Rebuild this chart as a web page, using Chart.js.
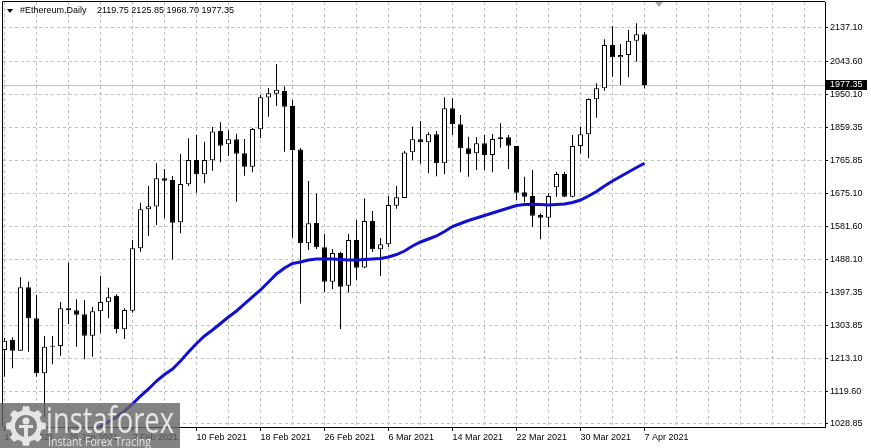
<!DOCTYPE html>
<html lang="en">
<head>
    <meta charset="UTF-8">
    <title>#Ethereum, Daily</title>
    <script src="https://cdn.jsdelivr.net/npm/chart.js"></script>
    <style>
        html, body { margin: 0; padding: 0; background: #fff; }
        canvas { display: block; }
    </style>
</head>
<body>
    <canvas id="ethChart" width="871" height="448"></canvas>

    <script>
        // Daily candles, 17 Jan 2021 .. 7 Apr 2021 (one bar per day)
        const opens = [
            1235.9, 1263.9, 1234.0, 1411.4, 1324.7, 1170.8, 1245.2, 1247.1, 1352.7, 1347.0,
            1335.9, 1276.0, 1344.3, 1369.4, 1387.9, 1293.9, 1345.9, 1520.6, 1629.8, 1637.6,
            1716.5, 1711.7, 1593.3, 1699.7, 1767.7, 1727.7, 1766.8, 1848.9, 1811.7, 1825.7,
            1786.5, 1749.0, 1853.6, 1942.6, 1953.2, 1960.8, 1918.8, 1797.1, 1534.6, 1591.4,
            1523.4, 1427.1, 1507.5, 1415.9, 1543.8, 1466.8, 1597.0, 1517.8, 1531.8, 1639.5,
            1661.3, 1789.2, 1825.7, 1817.2, 1839.9, 1758.5, 1912.4, 1867.6, 1800.5, 1786.5,
            1814.4, 1781.7, 1826.5, 1831.2, 1806.9, 1677.3, 1667.0, 1613.8, 1606.2, 1691.3,
            1728.5, 1665.0, 1806.9, 1839.6, 1937.6, 1968.4, 2089.6, 2055.1, 2061.6, 2101.6,
            2119.75
        ];
        const highs = [
            1269.5, 1271.5, 1439.4, 1427.1, 1389.9, 1275.2, 1275.2, 1370.3, 1480.3, 1377.9,
            1375.9, 1357.2, 1443.1, 1410.3, 1391.8, 1352.7, 1543.8, 1648.2, 1695.0, 1758.5,
            1742.5, 1722.9, 1784.5, 1828.4, 1837.7, 1818.9, 1860.1, 1873.2, 1850.8, 1841.3,
            1826.5, 1857.3, 1949.6, 1969.2, 2036.4, 1974.0, 1935.6, 1801.3, 1709.0, 1674.0,
            1560.6, 1518.6, 1511.1, 1560.6, 1599.8, 1660.0, 1625.0, 1549.4, 1667.0, 1694.9,
            1792.9, 1860.9, 1876.9, 1845.2, 1848.9, 1943.2, 1940.4, 1893.6, 1832.9, 1831.2,
            1837.7, 1840.5, 1870.4, 1837.7, 1806.9, 1721.0, 1739.7, 1618.6, 1674.5, 1735.0,
            1735.0, 1837.7, 1860.9, 1940.0, 1982.4, 2105.5, 2142.7, 2092.3, 2131.5, 2150.3,
            2125.85
        ];
        const lows = [
            1161.2, 1184.7, 1233.2, 1231.2, 1161.2, 1047.6, 1196.0, 1220.0, 1308.7, 1245.2,
            1209.9, 1217.2, 1282.7, 1324.7, 1282.7, 1266.8, 1340.4, 1511.1, 1555.0, 1585.8,
            1604.6, 1489.8, 1562.6, 1694.9, 1676.2, 1702.5, 1737.8, 1761.3, 1779.8, 1651.0,
            1723.8, 1733.3, 1828.4, 1888.9, 1918.8, 1791.0, 1550.3, 1366.1, 1515.8, 1518.6,
            1398.3, 1406.7, 1294.8, 1396.9, 1431.9, 1464.6, 1510.3, 1443.1, 1524.2, 1631.4,
            1660.5, 1767.7, 1757.3, 1730.5, 1722.1, 1727.7, 1837.7, 1733.3, 1721.0, 1739.7,
            1739.7, 1733.3, 1802.1, 1742.5, 1655.8, 1649.3, 1581.1, 1545.8, 1579.4, 1665.0,
            1663.3, 1663.3, 1786.5, 1772.5, 1886.1, 1961.7, 2000.8, 1977.6, 1999.2, 2042.8,
            1968.70
        ];
        const closes = [
            1262.0, 1234.0, 1411.4, 1324.7, 1170.8, 1245.2, 1248.0, 1352.7, 1347.0, 1334.8,
            1276.0, 1344.3, 1370.3, 1383.4, 1293.9, 1347.9, 1520.6, 1629.8, 1638.1, 1716.5,
            1709.8, 1592.3, 1700.5, 1767.7, 1727.7, 1767.7, 1847.4, 1807.7, 1825.7, 1785.4,
            1749.0, 1854.5, 1943.2, 1954.4, 1964.2, 1916.9, 1795.7, 1534.6, 1590.6, 1523.4,
            1427.1, 1507.5, 1413.1, 1543.8, 1466.3, 1597.0, 1517.8, 1531.8, 1641.8, 1663.3,
            1788.7, 1825.7, 1817.2, 1839.6, 1758.5, 1912.4, 1867.6, 1800.5, 1783.7, 1814.4,
            1781.7, 1826.5, 1831.2, 1807.7, 1676.2, 1665.0, 1611.8, 1606.2, 1667.0, 1728.5,
            1665.0, 1806.9, 1839.6, 1938.4, 1968.4, 2089.6, 2055.1, 2061.6, 2101.6, 2119.5,
            1977.35
        ];

        // moving average (blue line), first value belongs to bar maStart
        const maStart = 11;
        const ma = [
            1009.3, 1021.9, 1034.5, 1048.4, 1065.2, 1084.9, 1107.1, 1126.8, 1149.1, 1167.4,
            1182.8, 1205.1, 1230.3, 1254.1, 1275.2, 1291.9, 1310.1, 1328.3, 1345.1, 1364.7,
            1384.3, 1403.9, 1426.3, 1448.7, 1465.5, 1478.0, 1482.2, 1487.8, 1490.6, 1490.6,
            1490.6, 1489.2, 1487.8, 1487.8, 1489.2, 1490.6, 1492.0, 1496.2, 1503.2, 1513.0,
            1527.0, 1538.2, 1546.6, 1555.0, 1567.6, 1581.6, 1590.0, 1598.4, 1605.4, 1612.4,
            1619.4, 1626.4, 1633.4, 1640.3, 1643.1, 1643.7, 1643.1, 1641.7, 1643.1, 1644.5,
            1648.7, 1655.7, 1666.9, 1679.5, 1694.9, 1708.9, 1721.5, 1734.1, 1746.7, 1758.5
        ];

        // axis labels
        const priceTicks = [1028.85, 1119.60, 1213.10, 1303.85, 1397.35, 1488.10, 1581.60,
                            1675.10, 1765.85, 1859.35, 1950.10, 2043.60, 2137.10];
        const dateTicks = ['17 Jan 2021', '25 Jan 2021', '2 Feb 2021', '10 Feb 2021', '18 Feb 2021',
                           '26 Feb 2021', '6 Mar 2021', '14 Mar 2021', '22 Mar 2021', '30 Mar 2021', '7 Apr 2021'];
        const symbolTitle = '#Ethereum,Daily';

        const last = closes.length - 1;

        Chart.defaults.font.family = "'Liberation Sans', Arial, sans-serif";
        Chart.defaults.font.size = 9;
        Chart.defaults.color = '#000';

        // extra drawing: frame, header, price line and label, watermark
        const terminalPlugin = {
            id: 'terminal',
            beforeDatasetsDraw(chart) {
                const { ctx, chartArea: a, scales: { y } } = chart;
                const py = Math.round(y.getPixelForValue(closes[last])) + 0.5;
                ctx.save();
                ctx.strokeStyle = '#c0c0c0';
                ctx.lineWidth = 1;
                ctx.beginPath();
                ctx.moveTo(a.left, py);
                ctx.lineTo(a.right, py);
                ctx.stroke();
                ctx.restore();
            },
            afterDraw(chart) {
                const { ctx, chartArea: a, scales: { y } } = chart;
                ctx.save();

                // frame
                ctx.strokeStyle = '#000';
                ctx.lineWidth = 1;
                ctx.beginPath();
                ctx.moveTo(a.left - 0.5, a.bottom);
                ctx.lineTo(a.left - 0.5, a.top - 0.5);
                ctx.lineTo(a.right, a.top - 0.5);
                ctx.stroke();

                // header
                ctx.fillStyle = '#000';
                ctx.beginPath();
                ctx.moveTo(7, 9);
                ctx.lineTo(13, 9);
                ctx.lineTo(10, 13);
                ctx.closePath();
                ctx.fill();
                ctx.font = "9px 'Liberation Sans', Arial, sans-serif";
                ctx.textBaseline = 'middle';
                ctx.textAlign = 'left';
                ctx.fillText(symbolTitle, 20, 11);
                const ohlc = [opens[last], highs[last], lows[last], closes[last]].map(v => v.toFixed(2)).join(' ');
                ctx.fillText(ohlc, 97, 11);

                // shift marker
                ctx.fillStyle = '#a8a8a8';
                ctx.beginPath();
                ctx.moveTo(655, a.top);
                ctx.lineTo(663, a.top);
                ctx.lineTo(659, a.top + 5);
                ctx.closePath();
                ctx.fill();

                // last price box
                const py = Math.round(y.getPixelForValue(closes[last]));
                ctx.fillStyle = '#000';
                ctx.fillRect(a.right + 1, py - 5, 41, 10);
                ctx.fillStyle = '#fff';
                ctx.fillText(closes[last].toFixed(2), a.right + 5, py);

                // watermark
                ctx.fillStyle = 'rgba(100, 100, 100, 0.8)';
                ctx.fillRect(0, 403, 180, 45);
                ctx.fillStyle = '#e6e6e6';
                const cx = 26, cy = 426;
                ctx.beginPath();
                for (let k = 0; k < 16; k++) {
                    const ang = k * Math.PI / 8;
                    const r = k % 2 === 0 ? 20 : 16;
                    ctx.lineTo(cx + r * Math.cos(ang - 0.15), cy + r * Math.sin(ang - 0.15));
                    ctx.lineTo(cx + r * Math.cos(ang + 0.15), cy + r * Math.sin(ang + 0.15));
                }
                ctx.closePath();
                ctx.fill();
                ctx.fillStyle = 'rgb(128, 128, 128)';
                ctx.beginPath();
                ctx.arc(cx, cy, 11, 0, Math.PI * 2);
                ctx.fill();
                ctx.fillStyle = '#e6e6e6';
                ctx.beginPath();
                ctx.arc(cx, cy - 5, 3.5, 0, Math.PI * 2);
                ctx.fill();
                ctx.fillRect(cx - 7, cy - 1, 14, 3);
                ctx.fillRect(cx - 2, cy - 1, 4, 12);
                ctx.textBaseline = 'alphabetic';
                ctx.font = "36px 'Open Sans', sans-serif";
                ctx.fillText('instaforex', 46, 433, 128);
                ctx.font = "13px 'Open Sans', sans-serif";
                ctx.fillText('Instant Forex Tracing', 48, 446, 103);

                ctx.restore();
            }
        };

        const bullOrBear = opens.map((o, i) => closes[i] >= o ? '#ffffff' : '#000000');

        new Chart(document.getElementById('ethChart'), {
            type: 'bar',
            data: {
                datasets: [
                    {
                        type: 'line',
                        label: 'MA',
                        data: ma.map((v, k) => ({ x: k + maStart, y: v })),
                        borderColor: '#1010d2',
                        borderWidth: 3,
                        pointRadius: 0,
                        tension: 0,
                        order: 0
                    },
                    {
                        label: 'body',
                        data: opens.map((o, i) => ({ x: i, y: [o, closes[i]] })),
                        backgroundColor: bullOrBear,
                        borderColor: '#000',
                        borderWidth: 1,
                        borderSkipped: false,
                        barThickness: 5,
                        minBarLength: 1,
                        inflateAmount: 0,
                        grouped: false,
                        order: 1
                    },
                    {
                        label: 'wick',
                        data: lows.map((l, i) => ({ x: i, y: [l, highs[i]] })),
                        backgroundColor: '#000',
                        borderWidth: 0,
                        barThickness: 1,
                        inflateAmount: 0,
                        grouped: false,
                        order: 2
                    }
                ]
            },
            options: {
                responsive: false,
                animation: false,
                layout: { padding: { left: 3, top: 2, right: 0, bottom: 0 } },
                plugins: {
                    legend: { display: false },
                    tooltip: { enabled: false }
                },
                scales: {
                    x: {
                        type: 'linear',
                        min: -0.1875,
                        max: 102.5625,
                        offset: false,
                        grid: {
                            color: '#c0c0c0',
                            offset: false,
                            tickLength: 4,
                            tickColor: c => (c.tick && c.tick.value % 8 === 0 && c.tick.value / 8 < dateTicks.length) ? '#000' : 'rgba(0,0,0,0)'
                        },
                        border: { display: true, color: '#000', dash: [3, 3] },
                        ticks: {
                            autoSkip: false,
                            maxRotation: 0,
                            align: 'start',
                            padding: 1,
                            callback: v => (v % 8 === 0 && v / 8 < dateTicks.length) ? dateTicks[v / 8] : ''
                        },
                        afterBuildTicks: s => {
                            const t = [];
                            for (let v = 0; v <= 100; v += 4) t.push({ value: v });
                            s.ticks = t;
                        },
                        afterFit: s => {
                            s.height = 21;
                            s.paddingLeft = 0;
                            s.paddingRight = 0;
                        }
                    },
                    y: {
                        type: 'linear',
                        position: 'right',
                        min: 1020.45,
                        max: 2209.86,
                        grid: { color: '#c0c0c0', tickLength: 3, tickColor: '#000' },
                        border: { display: true, color: '#000', dash: [3, 3] },
                        ticks: {
                            padding: 2,
                            callback: v => v.toFixed(2)
                        },
                        afterBuildTicks: s => { s.ticks = priceTicks.map(v => ({ value: v })); },
                        afterFit: s => {
                            s.width = 46;
                            s.paddingTop = 0;
                            s.paddingBottom = 0;
                        }
                    }
                }
            },
            plugins: [terminalPlugin]
        });
    </script>
</body>
</html>
